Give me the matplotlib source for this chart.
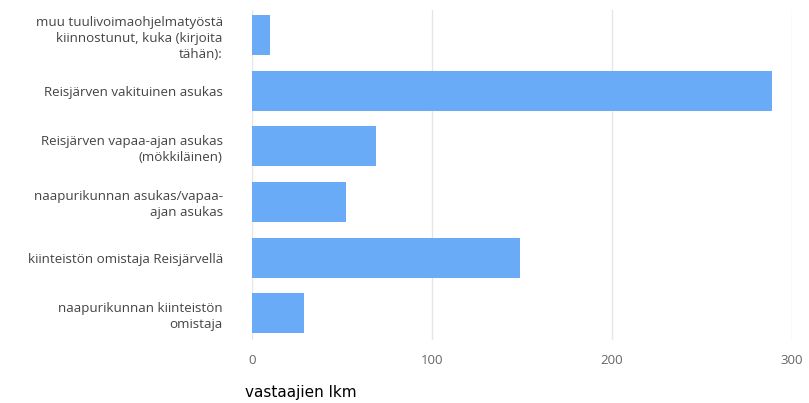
import matplotlib.pyplot as plt
import numpy as np

categories = [
    "muu tuulivoimaohjelmatyöstä\nkiinnostunut, kuka (kirjoita\ntähän):",
    "Reisjärven vakituinen asukas",
    "Reisjärven vapaa-ajan asukas\n(mökkiläinen)",
    "naapurikunnan asukas/vapaa-\najan asukas",
    "kiinteistön omistaja Reisjärvellä",
    "naapurikunnan kiinteistön\nomistaja",
]
counts = [10, 289, 69, 52, 149, 29]
xticks = [0, 100, 200, 300]

fig = plt.figure(figsize=(8.09, 4.03), dpi=100)
ax = fig.add_axes([252 / 809, 1 - 340 / 403, (792 - 252) / 809, 330 / 403])

y = np.arange(len(categories))
ax.barh(y, counts, height=0.72, color="#6aabf8", zorder=3)
ax.set_ylim(len(categories) - 0.52, -0.45)
ax.set_xlim(0, 300)

ax.set_yticks(y)
ax.set_yticklabels(categories, fontsize=9.6, color="#444444",
                   family="Open Sans", linespacing=1.3)
ax.set_xticks(xticks)
ax.set_xticklabels([str(t) for t in xticks], fontsize=9.5, color="#666666",
                   family="Open Sans")
ax.tick_params(axis="y", length=0, pad=21)
ax.tick_params(axis="x", length=0, pad=10)
for lbl in ax.get_yticklabels():
    lbl.set_horizontalalignment("right")
    lbl.set_multialignment("right")

ax.grid(axis="x", color="#e6e6e6", linewidth=1, zorder=0)
for s in ax.spines.values():
    s.set_visible(False)

fig.text(245 / 809, 1 - 392 / 403, "vastaajien lkm", fontsize=11,
         color="black", ha="left", va="center")

fig.savefig("out.png", dpi=100)
